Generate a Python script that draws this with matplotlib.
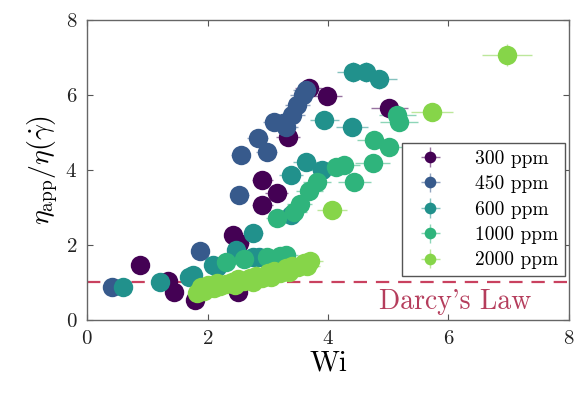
import matplotlib
import matplotlib.pyplot as plt

matplotlib.use("Agg")

# Weissenberg number and apparent viscosity ratio for each polymer concentration
wi_300 = [0.88, 1.35, 1.45, 1.79, 2.42, 2.53, 2.50, 2.91, 2.91, 3.15, 3.33, 3.68, 3.99, 5.02]
eta_300 = [1.47, 1.05, 0.75, 0.53, 2.27, 2.05, 0.75, 3.73, 3.07, 3.38, 4.88, 6.19, 5.97, 5.65]

wi_450 = [0.41, 1.87, 2.53, 2.55, 2.83, 2.98, 3.11, 3.25, 3.31, 3.41, 3.49, 3.58, 3.64]
eta_450 = [0.88, 1.85, 3.33, 4.40, 4.85, 4.48, 5.28, 5.25, 5.15, 5.47, 5.73, 6.00, 6.13]

wi_600 = [0.60, 1.21, 1.70, 1.76, 2.09, 2.15, 2.48, 2.75, 2.75, 2.86, 3.39,
          3.39, 3.64, 3.90, 3.94, 4.40, 4.41, 4.63, 4.85]
eta_600 = [0.88, 1.01, 1.15, 1.20, 1.47, 1.41, 1.87, 2.32, 1.68, 1.68, 2.80,
           3.87, 4.21, 4.00, 5.33, 5.15, 6.61, 6.61, 6.42]

wi_1000 = [2.30, 2.60, 2.98, 3.20, 3.31, 3.16, 3.44, 3.53, 3.69, 3.82, 4.14,
           4.27, 4.44, 4.74, 4.77, 5.02, 5.15, 5.18]
eta_1000 = [1.55, 1.62, 1.68, 1.70, 1.72, 2.72, 2.88, 3.10, 3.45, 3.68, 4.08,
            4.13, 3.68, 4.18, 4.80, 4.62, 5.47, 5.28]

wi_2000 = [1.82, 1.90, 1.95, 2.00, 2.10, 2.15, 2.20, 2.30, 2.40, 2.45, 2.50,
           2.60, 2.70, 2.75, 2.80, 2.90, 3.00, 3.05, 3.10, 3.20, 3.30, 3.35,
           3.40, 3.50, 3.60, 3.65, 3.70, 4.07, 5.73, 6.97]
eta_2000 = [0.72, 0.88, 0.78, 0.92, 0.85, 0.98, 0.90, 0.95, 1.02, 0.93, 1.08,
            1.05, 1.12, 1.02, 1.18, 1.12, 1.25, 1.15, 1.30, 1.26, 1.38, 1.28,
            1.45, 1.40, 1.52, 1.43, 1.58, 2.93, 5.55, 7.07]

labels = ["300 ppm", "450 ppm", "600 ppm", "1000 ppm", "2000 ppm"]
wi_sets = [wi_300, wi_450, wi_600, wi_1000, wi_2000]
eta_sets = [eta_300, eta_450, eta_600, eta_1000, eta_2000]

# relative measurement uncertainty on Wi and on the viscosity ratio
wi_rel_err = 0.06
eta_rel_err = 0.04

darcy = 1.0


def main():
    plt.rcParams["font.family"] = "serif"
    plt.rcParams["font.serif"] = ["cmr10"]
    plt.rcParams["mathtext.fontset"] = "cm"
    plt.rcParams["axes.formatter.use_mathtext"] = True

    fig = plt.figure(figsize=(5.74, 3.95), dpi=100)
    ax = fig.add_axes([0.1516, 0.19, 0.8396, 0.759])

    cmap = plt.get_cmap("viridis")
    shades = [0.0, 0.28, 0.5, 0.65, 0.82]

    for wi, eta, lab, s in zip(wi_sets, eta_sets, labels, shades):
        col = cmap(s)
        xerr = [w * wi_rel_err for w in wi]
        yerr = [e * eta_rel_err for e in eta]
        ax.errorbar(wi, eta, xerr=xerr, yerr=yerr, fmt="o", color=col,
                    ms=14, mew=0, ecolor=(col[0], col[1], col[2], 0.55),
                    elinewidth=1.0, capsize=5, capthick=1.0, label=lab)

    ax.axhline(darcy, color="#c9415f", lw=1.6, ls=(0, (6, 4)), zorder=0.5)
    ax.text(7.38, 0.3, "Darcy's Law", color="#b53d5c", fontsize=20,
            ha="right", va="baseline")

    ax.set_xlim(0, 8)
    ax.set_ylim(0, 8)
    ax.set_xticks([0, 2, 4, 6, 8])
    ax.set_yticks([0, 2, 4, 6, 8])
    ax.tick_params(direction="in", top=True, right=True, length=4,
                   width=0.8, colors="#555555", labelcolor="#222222",
                   labelsize=15, pad=7)
    for sp in ax.spines.values():
        sp.set_color("#666666")
        sp.set_linewidth(1.0)

    ax.set_xlabel("Wi", fontsize=21, labelpad=2)
    ax.set_ylabel(r"$\eta_{\rm app}/\eta(\dot{\gamma})$", fontsize=20,
                  labelpad=4)

    leg = ax.legend(loc="upper left", bbox_to_anchor=(0.654, 0.59),
                    borderaxespad=0, fancybox=False, framealpha=1,
                    edgecolor="#555555", fontsize=14, markerscale=0.6,
                    handlelength=2.2, labelspacing=0.38, handletextpad=1.2,
                    borderpad=0.35)
    leg.get_frame().set_linewidth(1.0)

    fig.savefig("out.png", dpi=100)
    return 0


if __name__ == "__main__":
    main()
